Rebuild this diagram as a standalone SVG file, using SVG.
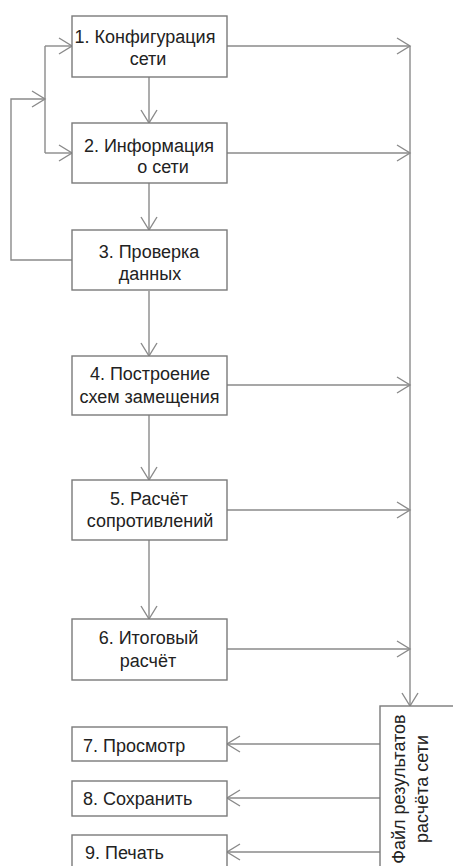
<svg xmlns="http://www.w3.org/2000/svg" width="453" height="866" viewBox="0 0 453 866">
<style>
.box{fill:#fff;stroke:#7a7a7a;stroke-width:1.4}
.ln{fill:none;stroke:#8a8a8a;stroke-width:1.4}
.t{font-family:"Liberation Sans",Arial,sans-serif;font-size:18px;fill:#222}
.c{text-anchor:middle}
</style>
<defs>
<marker id="ah" markerUnits="userSpaceOnUse" markerWidth="20" markerHeight="20" viewBox="-15 -10 17 20" refX="0" refY="0" orient="auto">
<path d="M-13,-8 L0,0 L-13,8" fill="none" stroke="#8a8a8a" stroke-width="1.4"/>
</marker>
</defs>
<rect width="453" height="866" fill="#fff"/>
<g id="connectors">
<path class="ln" d="M149,77 V123" marker-end="url(#ah)"/>
<path class="ln" d="M149,183 V230" marker-end="url(#ah)"/>
<path class="ln" d="M149,291 V356" marker-end="url(#ah)"/>
<path class="ln" d="M149,415 V480" marker-end="url(#ah)"/>
<path class="ln" d="M149,540 V619" marker-end="url(#ah)"/>
<path class="ln" d="M72,260 H11 V99 H45" marker-end="url(#ah)"/>
<path class="ln" d="M45,46 V153"/>
<path class="ln" d="M45,46 H72" marker-end="url(#ah)"/>
<path class="ln" d="M45,153 H72" marker-end="url(#ah)"/>
<path class="ln" d="M227,46 H410" marker-end="url(#ah)"/>
<path class="ln" d="M227,153 H410" marker-end="url(#ah)"/>
<path class="ln" d="M227,385 H410" marker-end="url(#ah)"/>
<path class="ln" d="M227,510 H410" marker-end="url(#ah)"/>
<path class="ln" d="M227,649 H410" marker-end="url(#ah)"/>
<path class="ln" d="M410,46 V706" marker-end="url(#ah)"/>
<path class="ln" d="M380,744 H227" marker-end="url(#ah)"/>
<path class="ln" d="M380,798 H227" marker-end="url(#ah)"/>
<path class="ln" d="M380,852 H227" marker-end="url(#ah)"/>
</g>
<g id="n1"><rect class="box" x="72" y="16" width="155" height="61"/>
<text class="t c" x="145" y="43">1. Конфигурация</text><text class="t c" x="148" y="65">сети</text></g>
<g id="n2"><rect class="box" x="72" y="123" width="155" height="60"/>
<text class="t c" x="149" y="152">2. Информация</text><text class="t c" x="163" y="173">о сети</text></g>
<g id="n3"><rect class="box" x="72" y="230" width="155" height="60"/>
<text class="t c" x="149" y="258">3. Проверка</text><text class="t c" x="150" y="280">данных</text></g>
<g id="n4"><rect class="box" x="72" y="356" width="155" height="59"/>
<text class="t c" x="150" y="380">4. Построение</text><text class="t c" x="149.5" y="403">схем замещения</text></g>
<g id="n5"><rect class="box" x="72" y="480" width="155" height="60"/>
<text class="t c" x="149" y="505">5. Расчёт</text><text class="t c" x="150" y="527">сопротивлений</text></g>
<g id="n6"><rect class="box" x="72" y="619" width="155" height="61"/>
<text class="t c" x="148.5" y="644">6. Итоговый</text><text class="t c" x="148" y="667">расчёт</text></g>
<g id="n7"><rect class="box" x="72" y="727" width="155" height="34"/>
<text class="t" x="83" y="752">7. Просмотр</text></g>
<g id="n8"><rect class="box" x="72" y="781" width="155" height="35"/>
<text class="t" x="83" y="805">8. Сохранить</text></g>
<g id="n9"><rect class="box" x="72" y="835" width="155" height="50"/>
<text class="t" x="85" y="859">9. Печать</text></g>
<g id="file"><rect class="box" x="380" y="706" width="90" height="180"/>
<text class="t c" x="405" y="789" transform="rotate(-90 405 789)">Файл результатов</text>
<text class="t c" x="428" y="789" transform="rotate(-90 428 789)">расчёта сети</text></g>
</svg>
